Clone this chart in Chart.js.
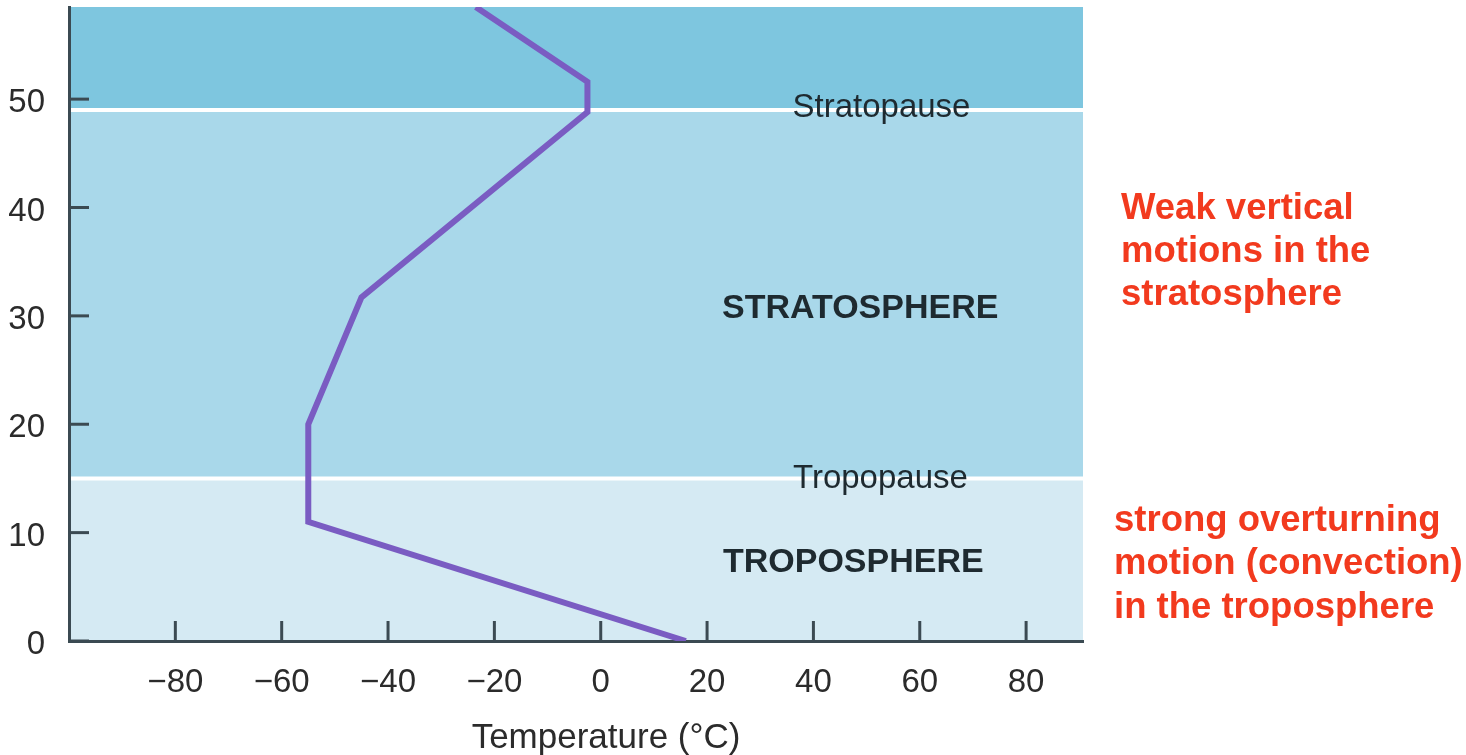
<!DOCTYPE html>
<html>
<head>
<meta charset="utf-8">
<script src="https://cdn.jsdelivr.net/npm/chart.js@4.4.0/dist/chart.umd.min.js"></script>
<style>
    html, body { margin: 0; padding: 0; background: #fff; }
    #caixa { width: 1466px; height: 755px; position: relative; }
</style>
</head>
<body>
<div id="caixa"><canvas id="grafico1"></canvas></div>
<script>
// perfil de temperatura (°C) x altitude (km)
const temperaturas = [16, -55, -55, -45, -2.5, -2.5, -23.5]
const altitudes = [0, 11, 20, 31.7, 48.8, 51.6, 58.5]

const ticksX = [-80, -60, -40, -20, 0, 20, 40, 60, 80]
const ticksY = [0, 10, 20, 30, 40, 50]

// limites das camadas (km)
const limites = [0, 15, 49, 58.5]
const coresCamadas = ['#d5eaf3', '#a9d8ea', '#7ec6df']

const tituloX = 'Temperature (°C)'
const nomesCamadas = ['TROPOSPHERE', 'STRATOSPHERE']
const nomesLimites = ['Tropopause', 'Stratopause']
const notaEstratosfera = ['Weak vertical', 'motions in the', 'stratosphere']
const notaTroposfera = ['strong overturning', 'motion (convection)', 'in the troposphere']

const fonte = "'Liberation Sans', Arial, sans-serif"
const corEixo = '#3b4a52'
const corTexto = '#2b2b2b'

Chart.defaults.font.family = fonte

const fundo = {
    id: 'fundo',
    beforeDraw(chart) {
        const { ctx, chartArea: a, scales: { y } } = chart
        ctx.save()
        for (let i = 0; i < limites.length - 1; i++) {
            const y1 = y.getPixelForValue(limites[i])
            const y2 = y.getPixelForValue(limites[i + 1])
            ctx.fillStyle = coresCamadas[i]
            ctx.fillRect(a.left, y2, a.right - a.left, y1 - y2)
        }
        ctx.strokeStyle = '#ffffff'
        ctx.lineWidth = 4
        limites.slice(1, 3).forEach(v => {
            const py = y.getPixelForValue(v)
            ctx.beginPath()
            ctx.moveTo(a.left, py)
            ctx.lineTo(a.right, py)
            ctx.stroke()
        })
        ctx.restore()
    },
    beforeDatasetsDraw(chart) {
        const { ctx, chartArea: a, scales: { x, y } } = chart
        ctx.save()
        ctx.textAlign = 'center'
        ctx.textBaseline = 'middle'
        ctx.fillStyle = '#1e2a30'

        ctx.font = `33px ${fonte}`
        ctx.fillText(nomesLimites[0], x.getPixelForValue(52.6), y.getPixelForValue(15))
        ctx.fillText(nomesLimites[1], x.getPixelForValue(52.8), y.getPixelForValue(49.2))

        ctx.font = `bold 34px ${fonte}`
        ctx.fillText(nomesCamadas[0], x.getPixelForValue(47.5), y.getPixelForValue(7.2))
        ctx.fillText(nomesCamadas[1], x.getPixelForValue(48.8), y.getPixelForValue(30.65))

        // titulo do eixo x (no original fica um pouco a direita do centro)
        ctx.fillStyle = corTexto
        ctx.font = `35px ${fonte}`
        ctx.fillText(tituloX, x.getPixelForValue(1), a.bottom + 97)

        // notas em vermelho fora da area do grafico
        ctx.textAlign = 'left'
        ctx.fillStyle = '#f23a1e'
        ctx.font = `bold 36.5px ${fonte}`
        const meio1 = y.getPixelForValue(35.9)
        notaEstratosfera.forEach((linha, i) => {
            ctx.fillText(linha, a.right + 38, meio1 + (i - 1) * 43)
        })
        const meio2 = y.getPixelForValue(7.1)
        notaTroposfera.forEach((linha, i) => {
            ctx.fillText(linha, a.right + 31, meio2 + (i - 1) * 43.5)
        })
        ctx.restore()
    },
    afterDatasetsDraw(chart) {
        // tracinhos para dentro
        const { ctx, chartArea: a, scales: { x, y } } = chart
        ctx.save()
        ctx.strokeStyle = corEixo
        ctx.lineWidth = 3
        ticksX.forEach(v => {
            const px = x.getPixelForValue(v)
            ctx.beginPath()
            ctx.moveTo(px, a.bottom)
            ctx.lineTo(px, a.bottom - 20)
            ctx.stroke()
        })
        ticksY.forEach(v => {
            const py = y.getPixelForValue(v)
            ctx.beginPath()
            ctx.moveTo(a.left, py)
            ctx.lineTo(a.left + 20, py)
            ctx.stroke()
        })
        ctx.restore()
    }
}

const rotulo = v => v < 0 ? '\u2212' + Math.abs(v) : String(v)

let ctx = document.getElementById('grafico1')
new Chart(ctx, {
    type: 'scatter',
    data: {
        datasets: [{
            label: 'Temperatura',
            data: temperaturas.map((t, i) => ({ x: t, y: altitudes[i] })),
            showLine: true,
            borderColor: '#7a5cc2',
            borderWidth: 6,
            pointRadius: 0,
            tension: 0
        }]
    },
    plugins: [fundo],
    options: {
        responsive: true,
        maintainAspectRatio: false,
        animation: false,
        layout: { padding: { top: 7, right: 383, bottom: 0, left: 0 } },
        plugins: {
            legend: { display: false },
            tooltip: { enabled: false }
        },
        scales: {
            x: {
                type: 'linear',
                min: -100,
                max: 90.7,
                afterBuildTicks: s => { s.ticks = ticksX.map(v => ({ value: v })) },
                afterFit: s => { s.height = 114; s.paddingLeft = 0; s.paddingRight = 0 },
                grid: { display: false },
                border: { display: true, color: corEixo, width: 3 },
                ticks: {
                    callback: rotulo,
                    font: { size: 33 },
                    color: corTexto,
                    padding: 14,
                    maxRotation: 0,
                    autoSkip: false
                },
                title: { display: false }
            },
            y: {
                type: 'linear',
                min: 0,
                max: 58.5,
                afterBuildTicks: s => { s.ticks = ticksY.map(v => ({ value: v })) },
                afterFit: s => { s.width = 69; s.paddingTop = 0; s.paddingBottom = 0 },
                grid: { display: false },
                border: { display: true, color: corEixo, width: 3 },
                ticks: {
                    callback: rotulo,
                    font: { size: 33 },
                    color: corTexto,
                    padding: 16,
                    labelOffset: 4
                }
            }
        }
    }
});
</script>
</body>
</html>
